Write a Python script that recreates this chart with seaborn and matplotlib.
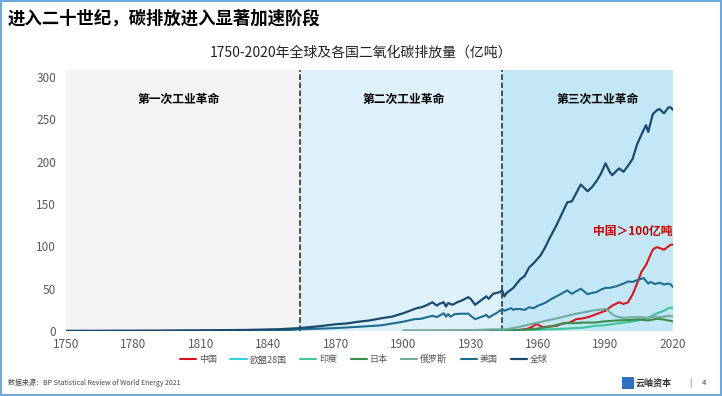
import numpy as np
import pandas as pd
import seaborn as sns
import matplotlib.pyplot as plt
from matplotlib.patches import Rectangle

sns.set_style('white')
plt.rcParams['font.family'] = ['Noto Sans CJK SC', 'DejaVu Sans']

# global emissions (亿吨)
global_years = [1750, 1770, 1790, 1810, 1830, 1845, 1854, 1862, 1870, 1875, 1880, 1885, 1890, 1895,
                1900, 1903, 1906, 1908, 1910, 1913, 1915, 1916, 1918, 1919, 1920, 1922, 1924, 1926,
                1929, 1930, 1932, 1934, 1937, 1938, 1940, 1943, 1944, 1945, 1946, 1949, 1952, 1954,
                1956, 1958, 1961, 1963, 1965, 1968, 1970, 1973, 1975, 1977, 1979, 1982, 1984, 1986,
                1988, 1990, 1992, 1993, 1996, 1998, 2000, 2002, 2004, 2006, 2008, 2009, 2011, 2013,
                2014, 2016, 2018, 2019, 2020]
global_vals = [0.3, 0.4, 0.6, 0.9, 1.3, 2.2, 3.5, 5.5, 8, 9, 11, 12.5, 15, 17,
               21, 24, 27, 28, 30, 34, 30, 32, 34, 29, 33, 31, 34, 36,
               40, 38, 31, 35, 41, 38, 44, 46, 48, 41, 45, 51, 61, 65,
               75, 80, 89, 98, 109, 124, 135, 152, 153, 163, 173, 165, 170, 177,
               186, 198, 187, 184, 192, 188, 195, 203, 220, 232, 243, 235, 256, 261,
               262, 257, 264, 264, 261]

us_years = [1800, 1830, 1850, 1854, 1870, 1880, 1890, 1900, 1905, 1908, 1910, 1913, 1915, 1918,
            1919, 1920, 1921, 1923, 1926, 1929, 1930, 1932, 1934, 1937, 1938, 1940, 1942, 1944,
            1945, 1946, 1948, 1949, 1950, 1952, 1954, 1956, 1958, 1960, 1963, 1966, 1970, 1973,
            1975, 1977, 1979, 1982, 1984, 1986, 1988, 1990, 1992, 1995, 1998, 2000, 2002, 2005,
            2007, 2009, 2010, 2012, 2014, 2016, 2018, 2019, 2020]
us_vals = [0.1, 0.3, 1.2, 2, 3.5, 5, 6.7, 11, 14, 14.5, 16, 18, 16.5, 21,
           17, 20, 17, 20, 20.5, 20.5, 18, 14, 16, 19, 16, 19, 22, 26,
           24, 25, 27, 25, 26, 26, 25, 28, 27, 30, 33, 38, 43.5, 48,
           44, 47, 50, 43.5, 45, 46, 49, 51, 51, 53, 56, 58.5, 58, 61,
           62.5, 56, 58, 55.5, 57, 55, 56, 55, 52]

china_years = [1900, 1930, 1945, 1950, 1955, 1957, 1959, 1960, 1962, 1965, 1968, 1971, 1974, 1977,
               1980, 1983, 1987, 1990, 1993, 1996, 1998, 2000, 2002, 2004, 2006, 2008, 2010, 2011,
               2012, 2013, 2015, 2016, 2018, 2019, 2020]
china_vals = [0.1, 0.2, 0.3, 0.8, 2.5, 4.5, 8, 7.5, 4.5, 5.5, 6, 9, 10, 14,
              15, 17, 21, 24, 30, 34, 32, 34, 43, 56, 70, 78, 90, 96,
              98, 99, 97, 96, 100, 102, 102]

eu28_years = []
eu28_vals = []

india_years = [1900, 1930, 1950, 1960, 1970, 1980, 1985, 1990, 1995, 2000, 2005, 2008, 2010,
               2012, 2014, 2016, 2018, 2019, 2020]
india_vals = [0.1, 0.3, 0.8, 1.5, 2.5, 4, 6, 7, 9, 10.5, 12.5, 15, 17, 20, 22, 24, 27, 27.5, 26.5]

japan_years = [1900, 1930, 1945, 1950, 1955, 1960, 1965, 1970, 1973, 1976, 1980, 1985, 1990,
               1995, 2000, 2005, 2009, 2013, 2016, 2018, 2020]
japan_vals = [0.2, 0.6, 0.5, 1, 1.8, 3, 5, 8.5, 9.5, 9.3, 10, 10, 11.5,
              12.5, 13, 13.8, 12.5, 14.5, 13.5, 12.5, 11.5]

russia_years = [1900, 1920, 1930, 1940, 1945, 1950, 1955, 1958, 1960, 1965, 1970, 1973, 1976,
                1980, 1985, 1990, 1991, 1992, 1994, 1996, 1998, 2000, 2005, 2009, 2012, 2015,
                2018, 2020]
russia_vals = [0.5, 0.5, 1, 2, 2, 4, 7, 9, 10, 13, 16, 18, 20,
               22, 24.5, 26, 25, 22, 18, 16.5, 15.5, 16, 16.5, 15.5, 17, 16.5, 18, 17]

series = [
    ('中国', china_years, china_vals, '#d9151b', 1.5),
    ('欧盟28国', eu28_years, eu28_vals, '#2fd0e0', 1.5),
    ('印度', india_years, india_vals, '#3cc69a', 1.5),
    ('日本', japan_years, japan_vals, '#3a8c4c', 1.5),
    ('俄罗斯', russia_years, russia_vals, '#72aaa2', 1.5),
    ('美国', us_years, us_vals, '#1d6e8e', 1.5),
    ('全球', global_years, global_vals, '#1b4a70', 1.6),
]

fig = plt.figure(figsize=(7.22, 3.96), dpi=100)
ax = fig.add_axes([0.0914, 0.164, 0.8407, 0.659])

# era backgrounds
ax.axvspan(1750, 1854, color='#f3f3f3', lw=0, zorder=0)
ax.axvspan(1854, 1944, color='#def1fb', lw=0, zorder=0)
ax.axvspan(1944, 2020, color='#c3e7f6', lw=0, zorder=0)
ax.axvline(1854, color='#222222', ls='--', lw=1.1, zorder=3)
ax.axvline(1944, color='#222222', ls='--', lw=1.1, zorder=3)

for name, yrs, vals, col, lw in series:
    if len(yrs) == 0:
        ax.plot([], [], color=col, lw=lw, label=name)
    else:
        sns.lineplot(x=yrs, y=vals, color=col, lw=lw, label=name, ax=ax, zorder=4)

ax.set_xlim(1750, 2020)
ax.set_ylim(0, 308)
ax.set_xticks(np.arange(1750, 2021, 30))
ax.set_yticks(np.arange(0, 301, 50))
ax.tick_params(axis='both', labelsize=8.5, colors='#595959', length=0)
ax.tick_params(axis='x', pad=5)
ax.tick_params(axis='y', pad=7)
for s in ax.spines.values():
    s.set_visible(False)
ax.set_xlabel('')
ax.set_ylabel('')

for x, t in [(1800, '第一次工业革命'), (1900, '第二次工业革命'), (1986.5, '第三次工业革命')]:
    ax.text(x, 274, t, ha='center', va='center', fontsize=8.5, fontweight='bold', color='black')
ax.text(2020, 118, '中国＞100亿吨', ha='right', va='center', fontsize=8.5,
        fontweight='bold', color='#c00000')

ax.legend(loc='center', bbox_to_anchor=(0.491, -0.11), ncol=7, frameon=False, fontsize=6.5,
          handlelength=1.8, handletextpad=0.3, columnspacing=1.5, labelcolor='#555555')

fig.text(0.5, 0.868, '1750-2020年全球及各国二氧化碳排放量（亿吨）', ha='center', va='center',
         fontsize=10, color='#222222')
fig.text(0.011, 0.953, '进入二十世纪，碳排放进入显著加速阶段', ha='left', va='center',
         fontsize=12.5, fontweight='bold', color='black')
fig.text(0.011, 0.033, '数据来源：BP Statistical Review of World Energy 2021', ha='left',
         va='center', fontsize=5, color='#444444')
fig.text(0.905, 0.033, '云岫资本', ha='center', va='center', fontsize=6.5, fontweight='bold',
         color='#333333')
fig.text(0.956, 0.033, '|', ha='center', va='center', fontsize=6, color='#555555')
fig.text(0.975, 0.033, '4', ha='center', va='center', fontsize=5.5, color='#444444')
fig.patches.append(Rectangle((0.862, 0.018), 0.016, 0.03, transform=fig.transFigure,
                             facecolor='#2f6fc0', edgecolor='none'))
fig.patches.append(Rectangle((0.002, 0.003), 0.996, 0.994, transform=fig.transFigure,
                             fill=False, edgecolor='#6fa8dc', lw=1.5))

plt.savefig('out.png', dpi=100)
